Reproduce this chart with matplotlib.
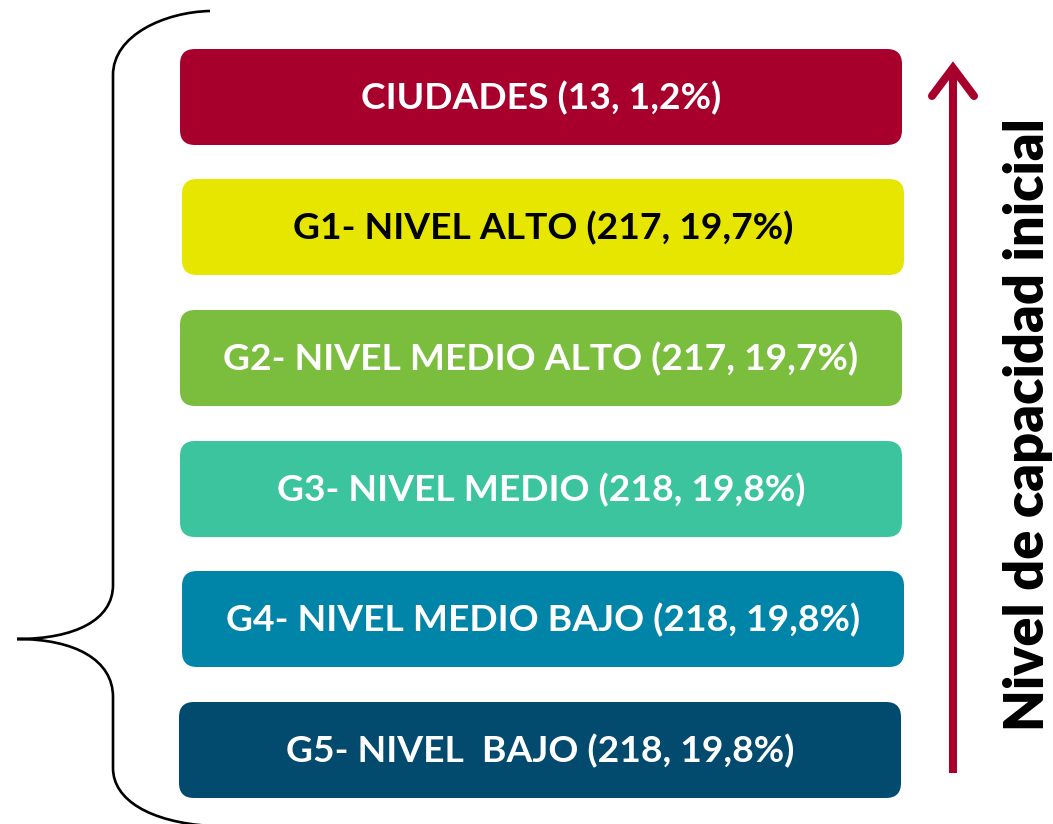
import matplotlib
matplotlib.use("Agg")
import matplotlib.pyplot as plt
from matplotlib.patches import FancyBboxPatch, PathPatch
from matplotlib.path import Path
from matplotlib.lines import Line2D

# ---- data ----
group_names = ["CIUDADES", "G1- NIVEL ALTO", "G2- NIVEL MEDIO ALTO",
               "G3- NIVEL MEDIO", "G4- NIVEL MEDIO BAJO", "G5- NIVEL  BAJO"]
group_counts = [13, 217, 217, 218, 218, 218]
group_percents = ["1,2", "19,7", "19,7", "19,8", "19,8", "19,8"]
box_colors = ["#A7002D", "#E6E600", "#7BBD3D", "#3BC49E", "#0085A8", "#034B6E"]
text_colors = ["white", "black", "white", "white", "white", "white"]
side_label = "Nivel de capacidad inicial"

labels = [f"{n} ({c}, {p}%)" for n, c, p in zip(group_names, group_counts, group_percents)]

# ---- layout (pixels) ----
W, H = 1053, 824
fig = plt.figure(figsize=(W / 100, H / 100), dpi=100)
ax = fig.add_axes([0, 0, 1, 1])
ax.set_xlim(0, W)
ax.set_ylim(H, 0)
ax.axis("off")

box_tops = [49, 179, 310, 441, 571, 702]
box_lefts = [180, 182, 180, 180, 182, 179]
box_w = 722
box_h = 96
font = "Lato"

for top, left, col in zip(box_tops, box_lefts, box_colors):
    p = FancyBboxPatch((left, top), box_w, box_h,
                       boxstyle="round,pad=0,rounding_size=15",
                       facecolor=col, edgecolor="none")
    ax.add_patch(p)

# fit font size so the widest label matches the reference width
renderer = fig.canvas.get_renderer()
probe = ax.text(0, 0, labels[2], fontsize=20, fontweight="bold", family=font)
wprobe = probe.get_window_extent(renderer).width
probe.remove()
fs = 20 * 636 / wprobe

for top, left, lab, tc in zip(box_tops, box_lefts, labels, text_colors):
    ax.text(left + box_w / 2, top + box_h / 2 + 1, lab, ha="center", va="center",
            fontsize=fs, fontweight="bold", color=tc, family=font)

# ---- brace ----
verts = [(210, 11), (165, 12), (113, 35), (113, 75),
         (113, 585),
         (113, 620), (75, 639), (17, 639),
         (75, 639), (113, 660), (113, 697),
         (113, 768),
         (113, 800), (150, 822), (210, 826)]
codes = [Path.MOVETO, Path.CURVE4, Path.CURVE4, Path.CURVE4,
         Path.LINETO,
         Path.CURVE4, Path.CURVE4, Path.CURVE4,
         Path.CURVE4, Path.CURVE4, Path.CURVE4,
         Path.LINETO,
         Path.CURVE4, Path.CURVE4, Path.CURVE4]
ax.add_patch(PathPatch(Path(verts, codes), facecolor="none", edgecolor="black",
                       linewidth=1.9, capstyle="butt"))

# ---- arrow ----
acol = "#A7002D"
ax.add_line(Line2D([953, 953], [773, 70], color=acol, linewidth=5.8,
                   solid_capstyle="butt"))
ax.add_line(Line2D([932, 953, 974], [96, 68, 96], color=acol, linewidth=5.8,
                   solid_capstyle="round", solid_joinstyle="miter"))

# ---- side label ----
probe = ax.text(0, 0, side_label, fontsize=20, fontweight="heavy", family=font, rotation=90)
hprobe = probe.get_window_extent(renderer).height
probe.remove()
fs2 = 20 * 614 / hprobe
ax.text(1028, 425, side_label, rotation=90, ha="center", va="center",
        fontsize=fs2, fontweight="heavy", color="black", family=font)

fig.savefig("out.png", dpi=100, facecolor="white")
